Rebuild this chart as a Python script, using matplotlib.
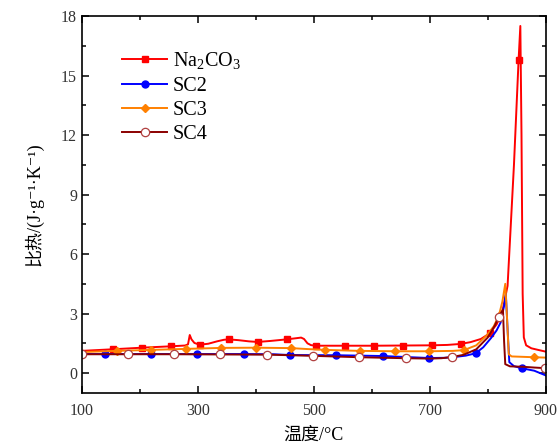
import matplotlib
matplotlib.use("Agg")
import matplotlib.pyplot as plt

plt.rcParams["font.family"] = ["Liberation Serif", "Noto Sans CJK SC", "DejaVu Sans"]
plt.rcParams["mathtext.fontset"] = "custom"
plt.rcParams["mathtext.rm"] = "Liberation Serif"
plt.rcParams["mathtext.it"] = "Liberation Serif:italic"

# Na2CO3
t_na = [100, 153, 203, 253, 278, 283, 286, 289, 294, 303, 318, 333, 345, 353, 370, 388, 403,
        425, 453, 470, 478, 483, 489, 495, 503, 553, 603, 653, 703, 730, 753, 770, 788, 803,
        815, 825, 834, 845, 853, 856, 858, 860, 862, 866, 875, 888, 900]
cp_na = [1.12, 1.20, 1.28, 1.35, 1.39, 1.45, 1.92, 1.70, 1.52, 1.43, 1.48, 1.60, 1.68, 1.70,
         1.66, 1.60, 1.57, 1.62, 1.70, 1.76, 1.79, 1.72, 1.50, 1.41, 1.38, 1.38, 1.38, 1.39,
         1.40, 1.42, 1.47, 1.56, 1.72, 2.00, 2.45, 3.10, 4.40, 10.5, 15.8, 17.5, 12.0, 4.0,
         1.8, 1.40, 1.25, 1.16, 1.08]
mk_na = [153, 203, 253, 303, 353, 403, 453, 503, 553, 603, 653, 703, 753, 803, 853]

# SC2
t_sc2 = [100, 140, 219, 299, 379, 430, 459, 539, 619, 699, 725, 745, 762, 779, 792, 805, 815,
         822, 828, 831, 834, 837, 845, 859, 880, 900]
cp_sc2 = [0.96, 0.96, 0.96, 0.96, 0.96, 0.95, 0.91, 0.90, 0.86, 0.76, 0.77, 0.82, 0.88, 1.00,
          1.30, 1.75, 2.15, 2.55, 3.40, 4.00, 2.20, 0.55, 0.35, 0.24, 0.12, -0.12]
mk_sc2 = [140, 219, 299, 379, 459, 539, 619, 699, 779, 859]

# SC3
t_sc3 = [100, 160, 219, 279, 340, 400, 460, 490, 519, 579, 640, 699, 740, 759, 780, 798, 810,
         819, 825, 830, 833, 836, 841, 879, 900]
cp_sc3 = [1.06, 1.12, 1.17, 1.22, 1.27, 1.28, 1.26, 1.21, 1.17, 1.12, 1.10, 1.10, 1.12, 1.16,
          1.40, 1.90, 2.35, 2.90, 3.60, 4.50, 2.80, 0.95, 0.84, 0.80, 0.78]
mk_sc3 = [160, 219, 279, 340, 400, 460, 519, 579, 640, 699, 759, 819, 879]

# SC4
t_sc4 = [100, 179, 259, 339, 419, 460, 498, 578, 658, 700, 720, 738, 758, 780, 800, 812, 819,
         826, 828, 830, 838, 860, 880, 898]
cp_sc4 = [0.95, 0.95, 0.95, 0.94, 0.93, 0.90, 0.87, 0.80, 0.75, 0.73, 0.75, 0.81, 0.92, 1.20,
          1.80, 2.40, 2.85, 3.20, 1.60, 0.45, 0.34, 0.32, 0.28, 0.25]
mk_sc4 = [100, 179, 259, 339, 419, 498, 578, 658, 738, 819, 898]

x_major = [100, 300, 500, 700, 900]
x_minor = [200, 400, 600, 800]
y_major = [0, 3, 6, 9, 12, 15, 18]
y_minor = [1.5, 4.5, 7.5, 10.5, 13.5, 16.5]


def idx(ts, marks):
    return [ts.index(m) for m in marks]


fig = plt.figure(figsize=(5.57, 4.46), dpi=100)
ax = fig.add_axes([0.147, 0.119, 0.833, 0.845])

ax.plot(t_na, cp_na, color="#ff0000", lw=1.4, marker="s", ms=5,
        markevery=idx(t_na, mk_na), label="Na$_2$CO$_3$")
ax.plot(t_sc2, cp_sc2, color="#0000ff", lw=1.4, marker="o", ms=5,
        markevery=idx(t_sc2, mk_sc2), label="SC2")
ax.plot(t_sc3, cp_sc3, color="#ff8000", lw=1.4, marker="D", ms=4.5,
        markevery=idx(t_sc3, mk_sc3), label="SC3")
ax.plot(t_sc4, cp_sc4, color="#8b0000", lw=1.4, marker="o", ms=6, mfc="white",
        mec="#b04040", mew=0.9, markevery=idx(t_sc4, mk_sc4), label="SC4")

ax.set_xticks(x_major)
ax.set_xticks(x_minor, minor=True)
ax.set_yticks(y_major)
ax.set_yticks(y_minor, minor=True)
ax.set_xlim(100, 900)
ax.set_ylim(-1, 18)
ax.tick_params(which="both", direction="in", top=True, right=True, labelsize=11.5,
               width=1.1, labelcolor="#333333")
ax.tick_params(which="major", length=5)
ax.tick_params(which="minor", length=3)
ax.xaxis.set_tick_params(pad=7)
for s in ax.spines.values():
    s.set_linewidth(1.2)

ax.set_xlabel("温度/°C", fontsize=13, labelpad=6)
ax.set_ylabel("比热/(J·g⁻¹·K⁻¹)", fontsize=13, labelpad=13)

ax.legend(loc="upper left", bbox_to_anchor=(0.07, 0.93), frameon=False, fontsize=14.5,
          handlelength=2.2, handletextpad=0.3, labelspacing=0.25, borderaxespad=0)

fig.savefig("out.png", dpi=100)
